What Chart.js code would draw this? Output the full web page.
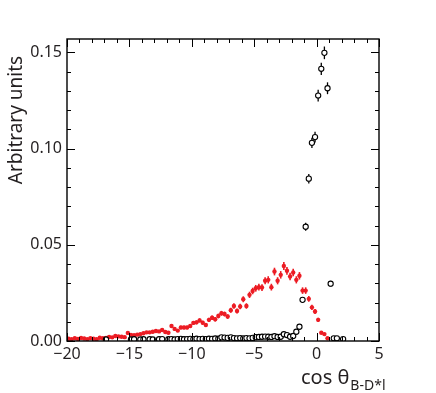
<!DOCTYPE html>
<html>
<head>
<meta charset="utf-8">
<script src="https://cdn.jsdelivr.net/npm/chart.js@4/dist/chart.umd.min.js"></script>
<style>
  html, body { margin: 0; padding: 0; background: #fff; }
  canvas { display: block; }
</style>
</head>
<body>
<canvas id="chart" width="436" height="393"></canvas>
<script>
// Histogram bins: centre of first bin and bin width
const binStart = -19.875;
const binWidth = 0.25;

// Red distribution (filled markers), from -19.875 to 0.875
const redValues = [
  0.0012, 0.0010, 0.0014, 0.0011, 0.0016, 0.0013, 0.0010, 0.0015, 0.0012, 0.0009,
  0.0017, 0.0014, 0.0016, 0.0021, 0.0019, 0.0026, 0.0024, 0.0022, 0.0020, 0.0042,
  0.0032, 0.0030, 0.0033, 0.0036, 0.0040, 0.0045, 0.0045, 0.0048, 0.0052, 0.0050,
  0.0057, 0.0047, 0.0043, 0.0078, 0.0063, 0.0054, 0.0070, 0.0070, 0.0070, 0.0078,
  0.0094, 0.0097, 0.0107, 0.0095, 0.0083, 0.0110, 0.0121, 0.0113, 0.0130, 0.0144,
  0.0140, 0.0127, 0.0160, 0.0182, 0.0156, 0.0179, 0.0217, 0.0182, 0.0240, 0.0260,
  0.0274, 0.0280, 0.0278, 0.0313, 0.0318, 0.0280, 0.0361, 0.0313, 0.0344, 0.0390,
  0.0365, 0.0335, 0.0356, 0.0318, 0.0339, 0.0262, 0.0262, 0.0219, 0.0175, 0.0153,
  0.0110, 0.0043, 0.0036, 0.0014
];

// Black distribution (open markers), from -19.875 to 2.125
const blackValues = [
  null, null, null, null, null, null, null, null, null, null,
  null, null, 0.0008, null, null, null, null, null, null, null,
  0.0008, 0.0009, null, 0.0008, 0.0009, null, 0.0009, 0.0008, null, 0.0009,
  0.0010, null, 0.0009, 0.0010, 0.0008, 0.0010, 0.0011, 0.0009, 0.0010, 0.0011,
  0.0010, 0.0012, 0.0010, 0.0011, 0.0010, 0.0012, 0.0011, 0.0013, 0.0012, 0.0019,
  0.0018, 0.0016, 0.0019, 0.0015, 0.0014, 0.0015, 0.0013, 0.0015, 0.0014, 0.0016,
  0.0020, 0.0021, 0.0022, 0.0023, 0.0022, 0.0021, 0.0025, 0.0021, 0.0022, 0.0035,
  0.0031, 0.0022, 0.0026, 0.0048, 0.0074, 0.0214, 0.0594, 0.0844, 0.1030, 0.1060,
  0.1276, 0.1415, 0.1498, 0.1314, 0.0298, 0.0014, 0.0014, null, 0.0010
];

// statistical error scale (sqrt of content)
const redErrScale = 0.0105;
const blackErrScale = 0.0085;

const xTickValues = [-20, -15, -10, -5, 0, 5];
const xTickLabels = ['\u221220', '\u221215', '\u221210', '\u22125', '0', '5'];
const yTickValues = [0, 0.05, 0.10, 0.15];
const yTickLabels = ['0.00', '0.05', '0.10', '0.15'];

const textColor = '#231f20';
const redColor = 'rgb(236,28,36)';

function toPoints(values) {
  const pts = [];
  values.forEach(function(v, i) {
    if (v !== null) pts.push({ x: binStart + i * binWidth, y: v });
  });
  return pts;
}

// Error bars, drawn under the markers
const errorBars = {
  id: 'errorBars',
  beforeDatasetsDraw(chart) {
    const ctx = chart.ctx;
    const xs = chart.scales.x, ys = chart.scales.y;
    const sets = [
      { values: redValues, k: redErrScale, color: redColor, w: 1.6 },
      { values: blackValues, k: blackErrScale, color: '#000', w: 1.3 }
    ];
    ctx.save();
    sets.forEach(function(s) {
      ctx.strokeStyle = s.color;
      ctx.lineWidth = s.w;
      s.values.forEach(function(v, i) {
        if (v === null) return;
        const e = s.k * Math.sqrt(v);
        const px = xs.getPixelForValue(binStart + i * binWidth);
        ctx.beginPath();
        ctx.moveTo(px, ys.getPixelForValue(v - e));
        ctx.lineTo(px, ys.getPixelForValue(v + e));
        ctx.stroke();
      });
    });
    ctx.restore();
  }
};

// Frame, inward ticks and axis titles
const frameAndTitles = {
  id: 'frameAndTitles',
  afterDraw(chart) {
    const ctx = chart.ctx;
    const a = chart.chartArea;
    const xs = chart.scales.x, ys = chart.scales.y;
    ctx.save();
    ctx.strokeStyle = '#000';
    ctx.lineWidth = 1;
    for (let v = -20; v <= 5; v++) {
      const px = Math.round(xs.getPixelForValue(v)) + 0.5;
      const len = (v % 5 === 0) ? 8 : 4;
      ctx.beginPath();
      ctx.moveTo(px, a.bottom); ctx.lineTo(px, a.bottom - len);
      ctx.moveTo(px, a.top); ctx.lineTo(px, a.top + len);
      ctx.stroke();
    }
    for (let j = 0; j <= 15; j++) {
      const py = Math.round(ys.getPixelForValue(j / 100)) + 0.5;
      const len = (j % 5 === 0) ? 8 : 4;
      ctx.beginPath();
      ctx.moveTo(a.left, py); ctx.lineTo(a.left + len, py);
      ctx.moveTo(a.right, py); ctx.lineTo(a.right - len, py);
      ctx.stroke();
    }
    ctx.lineWidth = 1.4;
    ctx.strokeRect(a.left, a.top, a.right - a.left, a.bottom - a.top);

    ctx.fillStyle = textColor;
    // y title
    ctx.save();
    ctx.translate(22, 120);
    ctx.rotate(-Math.PI / 2);
    ctx.font = '19px "Noto Sans"';
    ctx.textAlign = 'center';
    ctx.textBaseline = 'alphabetic';
    ctx.fillText('Arbitrary units', 0, 0);
    ctx.restore();
    // x title
    ctx.textAlign = 'left';
    ctx.textBaseline = 'alphabetic';
    ctx.font = '20px "Noto Sans"';
    ctx.fillText('cos \u03b8', 301, 384);
    const w = ctx.measureText('cos \u03b8').width;
    ctx.font = '14px "Noto Sans"';
    ctx.fillText('B-D*l', 301 + w + 1, 390);
    ctx.restore();
  }
};

new Chart(document.getElementById('chart'), {
  type: 'scatter',
  data: {
    datasets: [
      {
        label: 'black',
        data: toPoints(blackValues),
        pointStyle: 'circle',
        pointRadius: 2.6,
        pointBorderWidth: 1.1,
        pointBorderColor: '#000',
        pointBackgroundColor: '#fff',
        showLine: false
      },
      {
        label: 'red',
        data: toPoints(redValues),
        pointStyle: 'circle',
        pointRadius: 2.2,
        pointBorderWidth: 0,
        pointBackgroundColor: redColor,
        showLine: false
      }
    ]
  },
  options: {
    responsive: false,
    animation: false,
    devicePixelRatio: 1,
    layout: { padding: { top: 39, right: 57, left: 0, bottom: 0 } },
    plugins: { legend: { display: false }, tooltip: { enabled: false } },
    scales: {
      x: {
        type: 'linear',
        min: -20,
        max: 5,
        grid: { display: false, drawTicks: false },
        border: { display: false },
        afterBuildTicks: function(scale) {
          scale.ticks = xTickValues.map(function(v) { return { value: v }; });
        },
        afterFit: function(scale) { scale.height = 52; },
        ticks: {
          padding: 4,
          autoSkip: false,
          maxRotation: 0,
          color: textColor,
          font: { family: '"Noto Sans"', size: 16 },
          callback: function(value, index) { return xTickLabels[index]; }
        }
      },
      y: {
        type: 'linear',
        min: 0,
        max: 0.157,
        grid: { display: false, drawTicks: false },
        border: { display: false },
        afterBuildTicks: function(scale) {
          scale.ticks = yTickValues.map(function(v) { return { value: v }; });
        },
        afterFit: function(scale) { scale.width = 67; },
        ticks: {
          padding: 5,
          color: textColor,
          font: { family: '"Noto Sans"', size: 16 },
          callback: function(value, index) { return yTickLabels[index]; }
        }
      }
    }
  },
  plugins: [errorBars, frameAndTitles]
});
</script>
</body>
</html>
